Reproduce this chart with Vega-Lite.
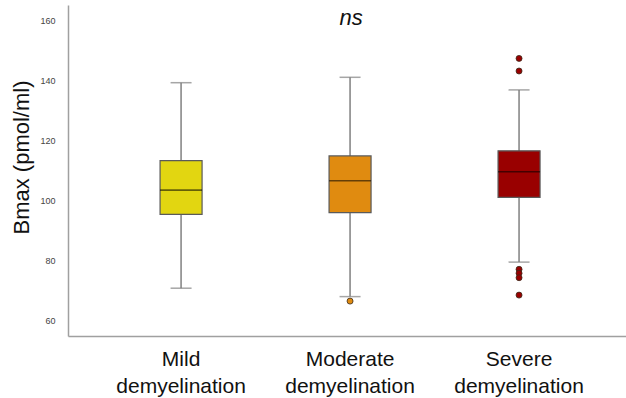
{
  "$schema": "https://vega.github.io/schema/vega-lite/v6.json",
  "width": 558,
  "height": 331,
  "autosize": "none",
  "padding": {"left": 68, "top": 5, "right": 0, "bottom": 62},
  "background": "white",
  "config": {
    "view": {"stroke": null},
    "font": "Liberation Sans"
  },
  "datasets": {
    "summary": [
      {"group": "Mild demyelination", "lower": 70.6, "q1": 95.2, "median": 103.3, "q3": 113.1, "upper": 139.1},
      {"group": "Moderate demyelination", "lower": 67.8, "q1": 95.8, "median": 106.4, "q3": 114.7, "upper": 140.9},
      {"group": "Severe demyelination", "lower": 79.3, "q1": 100.9, "median": 109.4, "q3": 116.4, "upper": 136.7}
    ],
    "outliers": [
      {"group": "Moderate demyelination", "value": 66.3},
      {"group": "Severe demyelination", "value": 147.2},
      {"group": "Severe demyelination", "value": 143.0},
      {"group": "Severe demyelination", "value": 76.9},
      {"group": "Severe demyelination", "value": 75.6},
      {"group": "Severe demyelination", "value": 74.1},
      {"group": "Severe demyelination", "value": 68.3}
    ]
  },
  "encoding": {
    "x": {
      "field": "group",
      "type": "nominal",
      "sort": ["Mild demyelination", "Moderate demyelination", "Severe demyelination"],
      "scale": {"paddingInner": 0, "paddingOuter": 0.151, "align": 0.56},
      "axis": {
        "title": null,
        "labelAngle": 0,
        "ticks": false,
        "domainColor": "#a0a0a0",
        "domainWidth": 1.5,
        "labelFontSize": 21,
        "labelColor": "#111111",
        "labelPadding": 12,
        "labelLineHeight": 27,
        "labelExpr": "split(datum.label, ' ')",
        "encode": {
          "labels": {
            "update": {
              "dx": {"signal": "datum.value === 'Mild demyelination' ? -16 : datum.value === 'Severe demyelination' ? 8 : -3"}
            }
          }
        }
      }
    }
  },
  "layer": [
    {
      "data": {"name": "summary"},
      "mark": {"type": "rule", "color": "#808080", "strokeWidth": 1.5},
      "encoding": {
        "y": {
          "field": "lower",
          "type": "quantitative",
          "scale": {"domain": [54.67, 165], "nice": false, "zero": false},
          "axis": {
            "title": "Bmax (pmol/ml)",
            "titleFontSize": 22,
            "titleFontWeight": "normal",
            "titleColor": "#111111",
            "titleAngle": -90,
            "titleAlign": "center",
            "titleBaseline": "alphabetic",
            "titleX": -40,
            "titleY": 152,
            "values": [60, 80, 100, 120, 140, 160],
            "ticks": false,
            "grid": false,
            "domainColor": "#a0a0a0",
            "domainWidth": 1.5,
            "labelFontSize": 9,
            "labelColor": "#444444",
            "labelPadding": 13
          }
        },
        "y2": {"field": "upper"}
      }
    },
    {
      "data": {"name": "summary"},
      "mark": {"type": "tick", "color": "#808080", "size": 21, "thickness": 1.5},
      "encoding": {"y": {"field": "upper", "type": "quantitative"}}
    },
    {
      "data": {"name": "summary"},
      "mark": {"type": "tick", "color": "#808080", "size": 21, "thickness": 1.5},
      "encoding": {"y": {"field": "lower", "type": "quantitative"}}
    },
    {
      "data": {"name": "summary"},
      "mark": {"type": "bar", "width": 42, "stroke": "#5a5a5a", "strokeWidth": 1.2},
      "encoding": {
        "y": {"field": "q1", "type": "quantitative"},
        "y2": {"field": "q3"},
        "color": {
          "field": "group",
          "type": "nominal",
          "scale": {
            "domain": ["Mild demyelination", "Moderate demyelination", "Severe demyelination"],
            "range": ["#e2d611", "#e08b10", "#990000"]
          },
          "legend": null
        }
      }
    },
    {
      "data": {"name": "summary"},
      "mark": {"type": "tick", "color": "#000000", "opacity": 0.55, "size": 42, "thickness": 1.6},
      "encoding": {"y": {"field": "median", "type": "quantitative"}}
    },
    {
      "data": {"name": "outliers"},
      "mark": {"type": "point", "filled": true, "size": 36, "stroke": "#3a2a1a", "strokeWidth": 0.8, "opacity": 1},
      "encoding": {
        "y": {"field": "value", "type": "quantitative"},
        "color": {"field": "group", "type": "nominal", "legend": null}
      }
    },
    {
      "data": {"values": [{"label": "ns", "group": "Moderate demyelination", "value": 158.3}]},
      "mark": {"type": "text", "fontSize": 22, "fontStyle": "italic", "baseline": "alphabetic", "color": "#111111", "dx": 1},
      "encoding": {
        "y": {"field": "value", "type": "quantitative"},
        "text": {"field": "label"}
      }
    }
  ]
}
